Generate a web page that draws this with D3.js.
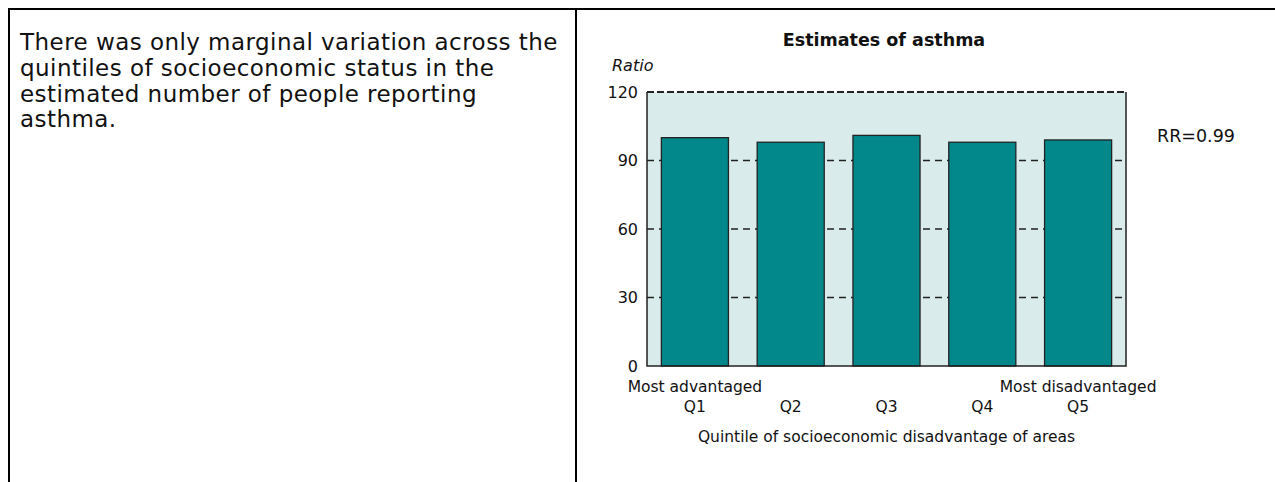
<!DOCTYPE html>
<html>
<head>
<meta charset="utf-8">
<script src="https://cdn.jsdelivr.net/npm/d3@7"></script>
<style>
  body { margin: 0; background: #fff; }
  svg { display: block; font-family: "DejaVu Sans", sans-serif; }
</style>
</head>
<body>
<div id="chart"></div>
<script>
// chart data
const quintiles = ["Q1", "Q2", "Q3", "Q4", "Q5"];
const ratios = [100, 98, 101, 98, 99];
const yTicks = [0, 30, 60, 90, 120];
const endLabels = { Q1: "Most advantaged", Q5: "Most disadvantaged" };
const title = "Estimates of asthma";
const rrLabel = "RR=0.99";
const xTitle = "Quintile of socioeconomic disadvantage of areas";
const note = [
    "There was only marginal variation across the",
    "quintiles of socioeconomic status in the",
    "estimated number of people reporting",
    "asthma."
];

const svgWidth = 1275;
const svgHeight = 482;
const ink = "#111";

const svg = d3.select("#chart")
    .append("svg")
    .attr("width", svgWidth)
    .attr("height", svgHeight);

// table frame lines
svg.append("line").attr("x1", 8).attr("x2", svgWidth).attr("y1", 9).attr("y2", 9)
    .attr("stroke", "#000").attr("stroke-width", 2);
svg.append("line").attr("x1", 9).attr("x2", 9).attr("y1", 8).attr("y2", svgHeight)
    .attr("stroke", "#000").attr("stroke-width", 2);
svg.append("line").attr("x1", 576).attr("x2", 576).attr("y1", 8).attr("y2", svgHeight)
    .attr("stroke", "#000").attr("stroke-width", 2);

// left text
svg.append("g").selectAll("text")
    .data(note)
    .enter().append("text")
    .attr("x", 20)
    .attr("y", (d, i) => 50 + i * 25.8)
    .attr("font-size", 23)
    .attr("letter-spacing", 0.45)
    .attr("fill", ink)
    .text(d => d);

// plot area
const margin = { top: 92, left: 647 };
const width = 479;
const height = 274;

const g = svg.append("g")
    .attr("transform", `translate(${margin.left},${margin.top})`);

const xScale = d3.scaleBand()
    .domain(quintiles)
    .range([0, width])
    .paddingInner(0.3)
    .paddingOuter(0.15);

const yScale = d3.scaleLinear()
    .domain([0, 120])
    .range([height, 0]);

g.append("rect")
    .attr("width", width)
    .attr("height", height)
    .attr("fill", "#d9eceb");

// dashed gridlines
g.selectAll(".grid")
    .data(yTicks.filter(d => d > 0))
    .enter().append("line")
    .attr("class", "grid")
    .attr("x1", 0)
    .attr("x2", width)
    .attr("y1", d => yScale(d))
    .attr("y2", d => yScale(d))
    .attr("stroke", "#222")
    .attr("stroke-width", d => d === 120 ? 2 : 1.3)
    .attr("stroke-dasharray", d => d === 120 ? "7,3" : "7,5");

// bars
g.selectAll(".bar")
    .data(quintiles)
    .enter().append("rect")
    .attr("class", "bar")
    .attr("x", d => xScale(d))
    .attr("y", (d, i) => yScale(ratios[i]))
    .attr("width", xScale.bandwidth())
    .attr("height", (d, i) => height - yScale(ratios[i]))
    .attr("fill", "#02888a")
    .attr("stroke", "#222")
    .attr("stroke-width", 1.3);

// solid frame on left, right, bottom
g.append("path")
    .attr("d", `M0,0V${height}H${width}V0`)
    .attr("fill", "none")
    .attr("stroke", "#222")
    .attr("stroke-width", 1.5);

// y axis labels
const yAxis = g.append("g")
    .call(d3.axisLeft(yScale).tickValues(yTicks).tickSize(0).tickPadding(9));
yAxis.select(".domain").remove();
yAxis.selectAll("text")
    .attr("font-size", 16)
    .attr("font-family", "DejaVu Sans, sans-serif")
    .attr("fill", ink);

// x axis labels
const xAxis = g.append("g")
    .attr("transform", `translate(0,${height})`)
    .call(d3.axisBottom(xScale).tickSize(0).tickPadding(35));
xAxis.select(".domain").remove();
xAxis.selectAll("text")
    .attr("font-size", 15.5)
    .attr("font-family", "DejaVu Sans, sans-serif")
    .attr("fill", ink);

g.selectAll(".end-label")
    .data(Object.keys(endLabels))
    .enter().append("text")
    .attr("class", "end-label")
    .attr("x", d => xScale(d) + xScale.bandwidth() / 2)
    .attr("y", height + 26)
    .attr("text-anchor", "middle")
    .attr("font-size", 15.5)
    .attr("fill", ink)
    .text(d => endLabels[d]);

g.append("text")
    .attr("x", width / 2)
    .attr("y", height + 76)
    .attr("text-anchor", "middle")
    .attr("font-size", 15.5)
    .attr("fill", ink)
    .text(xTitle);

// titles
g.append("text")
    .attr("x", width / 2 - 2.5)
    .attr("y", -46)
    .attr("text-anchor", "middle")
    .attr("font-size", 17.5)
    .attr("font-weight", "bold")
    .attr("fill", ink)
    .text(title);

g.append("text")
    .attr("x", -35)
    .attr("y", -21)
    .attr("font-size", 16)
    .attr("font-style", "italic")
    .attr("fill", ink)
    .text("Ratio");

g.append("text")
    .attr("x", width + 31)
    .attr("y", yScale(ratios[2]) + 7)
    .attr("font-size", 17.5)
    .attr("fill", ink)
    .text(rrLabel);
</script>
</body>
</html>
